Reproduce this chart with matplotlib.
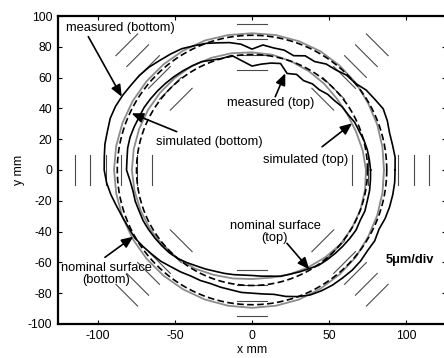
import numpy as np
import matplotlib
matplotlib.use("Agg")
import matplotlib.pyplot as plt

plt.rcParams['font.family'] = ['Liberation Sans', 'DejaVu Sans']
plt.rcParams['axes.unicode_minus'] = False

# ---- data (radius in mm read at angles, degrees) ----
angles_sim = list(range(0, 360, 10))
angles_meas = list(range(0, 360, 5))

nominal_bottom_r = 87.5
nominal_top_r = 75.0

measured_bottom = [92.9, 93.3, 92.7, 92.5, 93.5, 94.0, 92.0, 90.5, 87.6, 87.0,
                   84.8, 84.0, 81.3, 81.8, 79.0, 80.6, 80.5, 81.5, 78.5, 82.0,
                   84.0, 85.5, 87.5, 89.0, 91.0, 92.0, 93.0, 94.5, 95.5, 96.0,
                   97.0, 97.8, 98.0, 97.2, 97.0, 96.3, 96.0, 94.8, 93.0, 91.0,
                   89.5, 88.5, 88.0, 86.5, 85.0, 83.8, 82.0, 80.8, 79.5, 79.2,
                   78.5, 78.8, 79.0, 79.8, 80.0, 80.8, 82.0, 85.0, 87.5, 89.5,
                   90.5, 91.2, 91.5, 92.0, 92.0, 91.5, 92.0, 91.0, 92.0, 92.5,
                   92.8, 93.0]
measured_top = [77.0, 76.5, 76.0, 75.2, 74.0, 73.5, 72.0, 71.5, 70.0, 69.5,
                68.0, 68.3, 67.0, 68.5, 66.7, 71.6, 70.5, 69.0, 67.5, 71.0,
                75.5, 75.0, 76.0, 77.6, 78.0, 78.5, 79.0, 79.5, 80.0, 80.5,
                81.0, 81.0, 81.5, 82.0, 82.0, 81.5, 81.5, 79.5, 78.5, 78.5,
                78.0, 78.0, 77.5, 77.0, 76.5, 76.0, 75.0, 73.5, 72.0, 71.0,
                70.0, 69.5, 69.0, 68.5, 68.5, 69.2, 70.0, 71.5, 72.0, 73.0,
                74.0, 75.5, 76.0, 76.5, 77.0, 77.5, 78.0, 77.5, 78.0, 77.5,
                77.5, 77.2]
simulated_bottom = [85.7, 86.0, 86.5, 87.0, 88.0, 88.5, 89.0, 89.0, 89.0, 88.8,
                    89.0, 89.5, 89.5, 89.5, 89.5, 89.5, 89.5, 89.6, 89.6, 89.5,
                    89.5, 89.5, 89.5, 89.5, 89.5, 89.5, 89.5, 89.5, 89.5, 89.5,
                    89.0, 88.5, 88.0, 87.0, 86.5, 86.0]
simulated_top = [74.0, 73.0, 72.0, 71.7, 72.0, 73.0, 74.0, 75.0, 76.0, 76.4,
                 77.0, 77.5, 78.0, 78.0, 78.0, 78.0, 78.0, 78.0, 78.0, 77.5,
                 77.0, 76.5, 76.0, 75.0, 74.0, 72.5, 71.5, 70.8, 71.0, 72.0,
                 73.0, 74.0, 75.0, 75.0, 75.0, 74.5]

scale_dirs = [0, 45, 90, 135, 180, 225, 270, 315]
scale_radii = [65, 75, 85, 95, 105, 115]
scale_half = 10

xticks = [-100, -50, 0, 50, 100]
yticks = [-100, -80, -60, -40, -20, 0, 20, 40, 60, 80, 100]

# ---- figure ----
fig = plt.figure(figsize=(4.44, 3.58), dpi=100)
ax = fig.add_axes([0.1306, 0.095, 0.874, 0.8603])
ax.set_xlim(-126, 126)
ax.set_ylim(-100, 100)


def polar_xy(ang, rad):
    a = np.deg2rad(np.append(ang, ang[0]))
    r = np.append(rad, rad[0])
    return r * np.cos(a), r * np.sin(a)

# scale marks
for d in scale_dirs:
    phi = np.deg2rad(d)
    ux, uy = np.cos(phi), np.sin(phi)
    tx, ty = -uy, ux
    for r in scale_radii:
        cx, cy = r * ux, r * uy
        ax.plot([cx - scale_half * tx, cx + scale_half * tx],
                [cy - scale_half * ty, cy + scale_half * ty],
                color='#4a4a4a', lw=0.8, zorder=1)

# nominal circles
t = np.linspace(0, 2 * np.pi, 400)
for R in (nominal_bottom_r, nominal_top_r):
    ax.plot(R * np.cos(t), R * np.sin(t), color='black', lw=1.2,
            ls=(0, (4, 2)), zorder=3)

for vals in (simulated_bottom, simulated_top):
    x, y = polar_xy(np.array(angles_sim), np.array(vals))
    ax.plot(x, y, color='#8c8c8c', lw=1.3, zorder=2)
for vals in (measured_bottom, measured_top):
    x, y = polar_xy(np.array(angles_meas), np.array(vals))
    ax.plot(x, y, color='black', lw=1.2, zorder=4)

# annotations
ap = dict(arrowstyle='-|>,head_length=0.7,head_width=0.3', color='black',
          lw=1.2, shrinkA=0, shrinkB=0)
fs = 9.3
ax.text(-85.7, 92.2, 'measured (bottom)', ha='center', va='center', fontsize=fs)
ax.annotate('', xy=(-84.6, 47.6), xytext=(-106.3, 86.6), arrowprops=ap)
ax.text(-27.6, 18.4, 'simulated (bottom)', ha='center', va='center', fontsize=fs)
ax.annotate('', xy=(-78.2, 36.8), xytext=(-48.9, 24.9), arrowprops=ap)
ax.text(11.9, 43.3, 'measured (top)', ha='center', va='center', fontsize=fs)
ax.annotate('', xy=(21.6, 62.8), xytext=(15.1, 47.6), arrowprops=ap)
ax.text(35.1, 6.5, 'simulated (top)', ha='center', va='center', fontsize=fs)
ax.annotate('', xy=(65.0, 30.3), xytext=(45.5, 15.1), arrowprops=ap)
ax.text(14.9, -40.0, 'nominal surface\n(top)', ha='center', va='center',
        fontsize=fs, linespacing=1.0)
ax.annotate('', xy=(37.2, -64.5), xytext=(22.7, -47.6), arrowprops=ap)
ax.text(-94.4, -67.8, 'nominal surface\n(bottom)', ha='center', va='center',
        fontsize=fs, linespacing=1.0)
ax.annotate('', xy=(-77.1, -43.3), xytext=(-95.5, -56.7), arrowprops=ap)
ax.text(102.3, -58.4, '5\u03bcm/div', ha='center', va='center', fontsize=fs,
        fontweight='bold')

ax.set_xticks(xticks)
ax.set_yticks(yticks)
ax.tick_params(direction='in', length=3, width=0.8, top=True, right=True,
               labelsize=8.8, pad=4)
for s in ax.spines.values():
    s.set_linewidth(1.6)
ax.set_xlabel('x mm', fontsize=8.8, labelpad=2)
ax.set_ylabel('y mm', fontsize=8.8, labelpad=2)

fig.savefig('out.png', dpi=100)
